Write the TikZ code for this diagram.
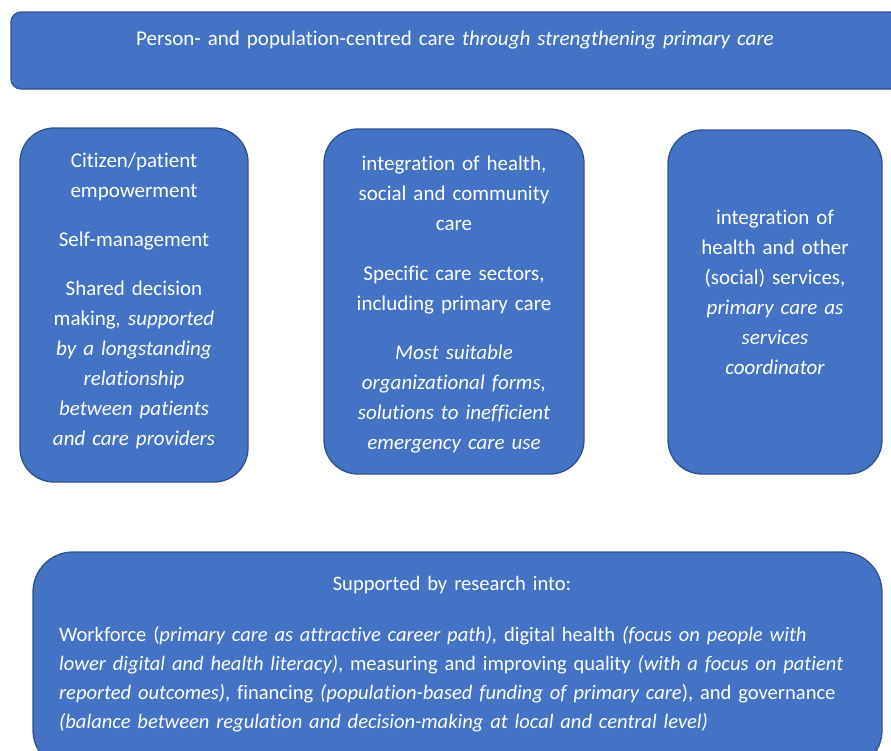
\documentclass[tikz,border=0pt]{standalone}
\usepackage{fontspec}
\setmainfont[Ligatures=NoCommon]{Carlito}
\definecolor{boxfill}{HTML}{4472C4}
\definecolor{boxline}{HTML}{2F528F}
\begin{document}
\begin{tikzpicture}[x=1pt,y=-1pt,
  panel/.style={draw=boxline, fill=boxfill, line width=1.3pt, inner sep=0pt, rectangle},
  txt/.style={text=white, font=\fontsize{21}{30}\selectfont, align=center, text width=#1, inner sep=0pt, anchor=base},
  ltxt/.style={text=white, font=\fontsize{20.55}{29.2}\selectfont, align=left, text width=#1, inner sep=0pt, anchor=base west},
]
\useasboundingbox (0,0) rectangle (891,750);
\node[panel, rounded corners=10pt, minimum width=889pt, minimum height=77pt] (topbox) at (455.5,50.5) {};
\node[panel, rounded corners=34pt, minimum width=228pt, minimum height=354pt] (box1) at (134,305) {};
\node[panel, rounded corners=34pt, minimum width=260pt, minimum height=345pt] (box2) at (454,301.5) {};
\node[panel, rounded corners=34pt, minimum width=214pt, minimum height=344pt] (box3) at (775,302) {};
\node[panel, rounded corners=40pt, minimum width=849pt, minimum height=218pt] (botbox) at (457.5,661) {};

\node[txt=760pt] (t0) at (455,45) {Person- and population-centred care \textit{through strengthening primary care}};

\node[txt=220pt] (t1) at (134,167) {Citizen/patient\\empowerment\\[19pt]Self-management\\[19pt]Shared decision\\making\textit{, supported}\\\textit{by a longstanding}\\\textit{relationship}\\\textit{between patients}\\\textit{and care providers}};

\node[txt=250pt] (t2) at (454,170) {integration of health,\\social and community\\care\\[20pt]Specific care sectors,\\including primary care\\[19pt]\textit{Most suitable}\\\textit{organizational forms,}\\\textit{solutions to inefficient}\\\textit{emergency care use}};

\node[txt=205pt] (t3) at (775,224) {integration of\\health and other\\(social) services,\\\textit{primary care as}\\\textit{services}\\\textit{coordinator}};

\node[txt=600pt] (t4) at (452,590) {\fontsize{20.55}{29.2}\selectfont Supported by research into:};

\node[ltxt=820pt] (t5) at (59,641) {Workforce (\textit{primary care as attractive career path),} digital health \textit{(focus on people with}\\\textit{lower digital and health literacy)}, measuring and improving quality \textit{(with a focus on patient}\\\textit{reported outcomes)}, financing \textit{(population-based funding of primary care}), and governance\\\textit{(balance between regulation and decision-making at local and central level)}};
\end{tikzpicture}
\end{document}
